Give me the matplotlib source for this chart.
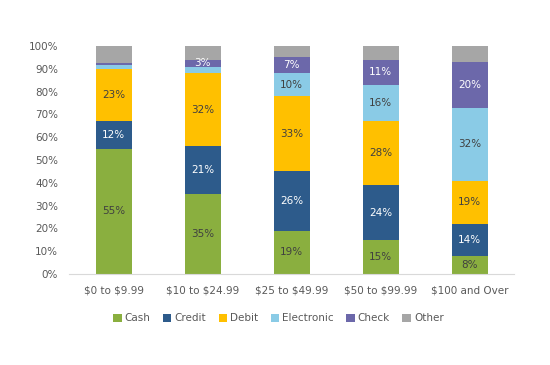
import numpy as np
import matplotlib.pyplot as plt

# Payment method share by transaction size
categories = ["\\$0 to \\$9.99", "\\$10 to \\$24.99", "\\$25 to \\$49.99",
              "\\$50 to \\$99.99", "\\$100 and Over"]
cash = [55, 35, 19, 15, 8]
credit = [12, 21, 26, 24, 14]
debit = [23, 32, 33, 28, 19]
electronic = [1.8, 2.8, 10, 16, 32]
check = [0.9, 3.2, 7, 11, 20]
other = [7.3, 6, 5, 6, 7]

series = [
    ("Cash", cash, "#8AAF3F", "#404040"),
    ("Credit", credit, "#2D5B8B", "white"),
    ("Debit", debit, "#FFC000", "#404040"),
    ("Electronic", electronic, "#8ACBE6", "#404040"),
    ("Check", check, "#6C68AA", "white"),
    ("Other", other, "#A6A6A6", None),
]

fig = plt.figure(figsize=(5.5, 3.65), dpi=100)
ax = fig.add_axes([0.126, 0.249, 0.809, 0.625])

x = np.arange(len(categories))
bottom = np.zeros(len(categories))
for name, vals, color, tcolor in series:
    vals = np.array(vals, dtype=float)
    ax.bar(x, vals, 0.41, bottom=bottom, color=color, label=name, linewidth=0)
    if tcolor is not None:
        for xi, b, v in zip(x, bottom, vals):
            if v >= 3:
                ax.text(xi, b + v / 2, f"{v:.0f}%", ha="center", va="center",
                        fontsize=7.5, color=tcolor)
    bottom += vals

ax.set_xlim(-0.5, len(categories) - 0.5)
ax.set_ylim(0, 100)
ax.set_yticks(np.arange(0, 101, 10))
ax.set_yticklabels([f"{v}%" for v in range(0, 101, 10)])
ax.set_xticks(x)
ax.set_xticklabels(categories)
ax.tick_params(length=0, labelsize=7.5, colors="#595959")
ax.tick_params(axis="y", pad=8)
ax.tick_params(axis="x", pad=8)
for s in ["top", "right", "left"]:
    ax.spines[s].set_visible(False)
ax.spines["bottom"].set_color("#D9D9D9")

leg = ax.legend(loc="upper center", bbox_to_anchor=(0.47, -0.13), ncol=6, frameon=False,
                fontsize=7.5, handlelength=0.8, handleheight=0.8, handletextpad=0.3,
                columnspacing=1.2)
for t in leg.get_texts():
    t.set_color("#595959")

fig.savefig("out.png", dpi=100)
